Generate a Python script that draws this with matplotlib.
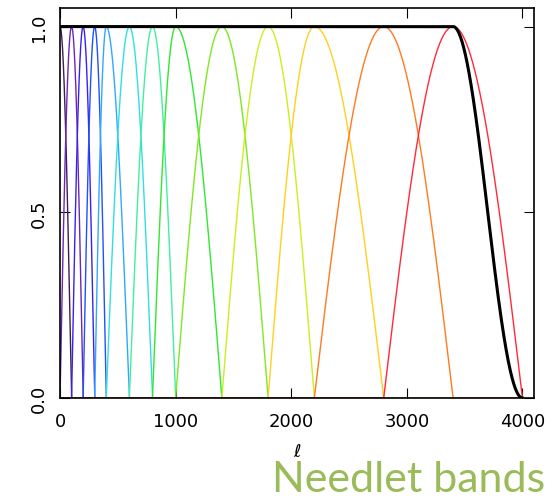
import numpy as np
import matplotlib
matplotlib.use('Agg')
from matplotlib import pyplot as plt

# band peak positions (multipole) and the end of the last band
peaks = [0, 100, 200, 300, 400, 600, 800, 1000, 1400, 1800, 2200, 2800, 3400]
lmax = 4000
colors = ['#3c1e5a', '#6a28b4', '#3a20f0', '#2050ff', '#30a8ff', '#30e0e0',
          '#40f0a0', '#30e830', '#80e820', '#c8f020', '#ffd020', '#ff7a20', '#ff2a3a']

ell = np.linspace(0, lmax, 4001)
edges = [peaks[0]] + peaks + [lmax]


def band(j):
    lo, pk, hi = edges[j], edges[j + 1], edges[j + 2]
    b = np.zeros_like(ell)
    if pk > lo:
        m = (ell >= lo) & (ell <= pk)
        b[m] = np.sin(0.5 * np.pi * (ell[m] - lo) / (pk - lo))
    m = (ell >= pk) & (ell <= hi)
    b[m] = np.cos(0.5 * np.pi * (ell[m] - pk) / (hi - pk))
    return b


fig = plt.figure(figsize=(5.52, 5.02), dpi=100)
ax = fig.add_axes([60 / 552, 1 - 399 / 502, 474 / 552, 390 / 502])

total = np.zeros_like(ell)
for j in range(len(peaks)):
    b = band(j)
    total += b ** 2
    ax.plot(ell, b, color=colors[j], lw=1.0)
ax.plot(ell, total, color='k', lw=2.2)

ax.set_xlim(0, 4100)
ax.set_ylim(0, 1.05)
ax.set_xticks([0, 1000, 2000, 3000, 4000])
ax.set_yticks([0.0, 0.5, 1.0])
ax.set_yticklabels(['0.0', '0.5', '1.0'], rotation=90, va='center')
ax.tick_params(direction='in', top=True, right=True, length=7, labelsize=13)
ax.tick_params(axis='y', pad=9)
ax.tick_params(axis='x', pad=10)
ax.set_xlabel(r'$\ell$', fontsize=13, labelpad=9)
for s in ax.spines.values():
    s.set_linewidth(1.2)

fig.text(545 / 552, 1 - 480 / 502, 'Needlet bands', color='#9bbb59',
         fontsize=31, family='Lato', ha='right', va='center')

fig.savefig('out.png', dpi=100)
